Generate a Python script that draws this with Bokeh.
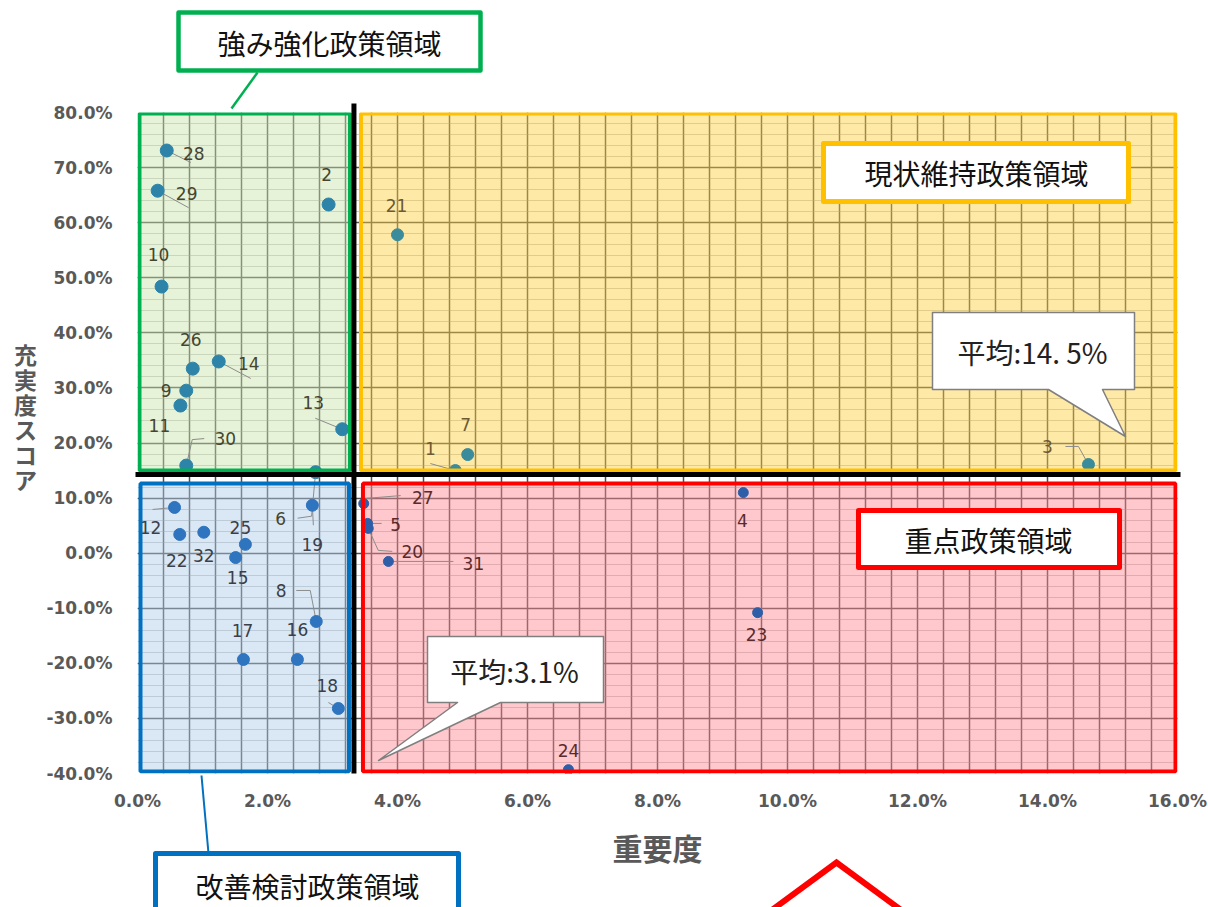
from bokeh.plotting import figure
from bokeh.layouts import column
from bokeh.models import Range1d, SingleIntervalTicker, PrintfTickFormatter
from bokeh.core.properties import value
from bokeh.embed import file_html
from bokeh.resources import INLINE

# ---------------- data ----------------
ids = [1, 2, 3, 4, 5, 6, 7, 8, 9, 10, 11, 12, 13, 14, 15, 16,
       17, 18, 19, 20, 21, 22, 23, 24, 25, 26, 27, 28, 29, 30, 31, 32]
importance = [4.89, 2.94, 14.63, 9.32, 3.54, 2.74, 5.08, 2.75, 0.75, 0.37, 0.66, 0.57, 3.15, 1.25, 1.51, 2.46,
              1.63, 3.09, 2.69, 3.55, 4.00, 0.65, 9.54, 6.63, 1.66, 0.85, 3.48, 0.45, 0.31, 0.75, 3.86, 1.02]
score = [15.0, 63.3, 16.1, 11.0, 5.4, 14.7, 17.9, -12.4, 29.5, 48.4, 26.8, 8.3, 22.5, 34.8, -0.8, -19.3,
         -19.3, -28.2, 8.7, 4.5, 57.8, 3.4, -10.8, -39.3, 1.6, 33.5, 9.0, 73.1, 65.8, 15.9, -1.5, 3.8]

x_title = "重要度"
y_title = "充実度スコア"
region_titles = ["強み強化政策領域", "現状維持政策領域", "改善検討政策領域", "重点政策領域"]
avg_x_text = "平均:3.1%"
avg_y_text = "平均:14. 5%"
AVG_X = 3.33   # position of the importance divider as drawn
AVG_Y = 14.3   # position of the score divider as drawn

# label placement (pixel offsets from each point, y downward)
lab_dx = [-25, -2, -41, -1, 28, -35, -2, -35, -20, -3, -21, -24, -29, 30, 2, 0,
          -1, -11, 0, 44, -1, -3, -1, 0, -5, -2, 59, 27, 29, 39, 85, 0]
lab_dy = [-22, -30, -18, 28, 1, 46, -30, -31, 0, -32, 20, 20, -27, 2, 20, -30,
          -29, -23, 39, 23, -29, 26, 22, -19, -17, -29, -6, 3, 3, -27, 2, 23]
# leader lines (pixel offsets from the point)
leaders = {
    1: [(-25, -7)], 3: [(-10, -18), (-23, -18)], 6: [(-4, 44), (-18, 46)],
    8: [(-6, -31), (-20, -31)], 12: [(-22, 2)], 13: [(-27, -11)], 14: [(32, 17)],
    18: [(-10, -6)], 19: [(1, 20)], 20: [(10, 22), (24, 23)], 27: [(0, -5), (37, -8)],
    5: [(14, 0)], 28: [(24, 12)], 29: [(31, 17)], 30: [(6, -26), (18, -27)], 31: [(65, 0)],
}

# ---------------- geometry ----------------
W, H = 1208, 907
FL, FR, FT, FB = 137, 1177, 112, 773        # plot frame, pixels
X0, X1, Y0, Y1 = 0.0, 16.0, -40.0, 80.0
SX = (X1 - X0) / (FR - FL)
SY = (Y1 - Y0) / (FB - FT)


def px(xp):  # pixel -> data x
    return X0 + (xp - FL) * SX


def py(yp):  # pixel -> data y
    return Y1 - (yp - FT) * SY


main = figure(width=W, height=H, x_range=Range1d(X0, X1), y_range=Range1d(Y0, Y1),
              output_backend="svg", toolbar_location=None,
              min_border_left=FL, min_border_right=W - FR, min_border_top=FT, min_border_bottom=H - FB)
main.outline_line_color = None
main.background_fill_color = "white"

# axes
main.xaxis.ticker = SingleIntervalTicker(interval=2)
main.yaxis.ticker = SingleIntervalTicker(interval=10, num_minor_ticks=5)
for ax in (main.xaxis, main.yaxis):
    ax.formatter = PrintfTickFormatter(format="%.1f%%")
    ax.axis_line_color = None
    ax.major_tick_line_color = None
    ax.minor_tick_line_color = None
    ax.major_tick_in = 0
    ax.major_tick_out = 0
    ax.minor_tick_in = 0
    ax.minor_tick_out = 0
    ax.major_label_text_font = "DejaVu Sans"
    ax.major_label_text_font_style = "bold"
    ax.major_label_text_font_size = "17px"
    ax.major_label_text_color = "#595959"
main.yaxis.major_label_standoff = 25
main.xaxis.major_label_standoff = 17
main.xaxis.axis_label = x_title
main.xaxis.axis_label_text_font = "Noto Sans CJK JP"
main.xaxis.axis_label_text_font_size = "30px"
main.xaxis.axis_label_text_font_style = "bold"
main.xaxis.axis_label_text_color = "#595959"
main.xaxis.axis_label_standoff = 11

# grid
main.xgrid.ticker = SingleIntervalTicker(interval=0.4)
for g in (main.xgrid, main.ygrid):
    g.grid_line_color = "#4f4f4f"
    g.grid_line_width = 1.5
main.ygrid.minor_grid_line_color = "#8a8a8a"
main.ygrid.minor_grid_line_alpha = 0.45

# quadrant boxes
gxl, gxr = 4 * SX, 7 * SX
gyt, gyb = 4 * SY, 9 * SY
q_left = [px(FL + 2), AVG_X + gxr, px(FL + 3), AVG_X + gxr + 2 * SX]
q_right = [AVG_X - gxl, px(FR - 2), AVG_X - gxl - SX, px(FR - 2)]
q_top = [py(FT + 1), py(FT + 1), AVG_Y - gyb, AVG_Y - gyb]
q_bottom = [AVG_Y + gyt, AVG_Y + gyt, py(FB - 2), py(FB - 2)]
q_fill = ["#c7e4ab", "#fdce39", "#adcceb", "#ff858e"]
q_line = ["#00b050", "#ffc000", "#0070c0", "#ff0000"]
main.quad(left=q_left, right=q_right, top=q_top, bottom=q_bottom,
          fill_color=q_fill, fill_alpha=0.45, line_color=None)

# points, colours by quadrant
region = []
for xi, yi in zip(importance, score):
    if yi >= AVG_Y:
        region.append(0 if xi < AVG_X else 1)
    else:
        region.append(2 if xi < AVG_X else 3)
pt_color = [["#2d84a8", "#3a8c9c", "#2e74bf", "#2f5ea8"][r] for r in region]
pt_size = [[13, 12, 12, 10][r] for r in region]
lb_color = [["#45452f", "#6b5a34", "#3a3f48", "#5a2a2a"][r] for r in region]

lx, ly = [], []
for i, xi, yi in zip(ids, importance, score):
    if i in leaders:
        lx.append([xi] + [xi + d[0] * SX for d in leaders[i]])
        ly.append([yi] + [yi - d[1] * SY for d in leaders[i]])
main.multi_line(xs=lx, ys=ly, line_color="#8c8c8c", line_width=1)

main.scatter(x=importance, y=score, size=pt_size, fill_color=pt_color, line_color=pt_color)
main.text(x=importance, y=score, text=[str(i) for i in ids], x_offset=lab_dx, y_offset=lab_dy,
          text_align="center", text_baseline="middle", text_font=value("DejaVu Sans"),
          text_font_size="17px", text_color=lb_color)

main.quad(left=q_left, right=q_right, top=q_top, bottom=q_bottom,
          fill_color=None, line_color=q_line, line_width=4)

# ---------------- overlay for callouts (whole canvas) ----------------
over = figure(width=W, height=H, x_range=Range1d(px(0), px(W)), y_range=Range1d(py(H), py(0)),
              output_backend="svg", toolbar_location=None, title=None, min_border=0,
              x_axis_location=None, y_axis_location=None,
              styles={"position": "absolute", "left": "0px", "top": "0px", "pointer-events": "none"})
over.background_fill_color = None
over.border_fill_color = None
over.outline_line_color = None
over.grid.visible = False

try:
    over.frame_align = False
    main.frame_align = False
    aligned = False
except Exception:
    aligned = True
if aligned:  # overlay frame follows the main frame horizontally
    over.x_range = Range1d(X0, X1)

# dividers
over.line(x=[AVG_X, AVG_X], y=[py(103), Y0], line_color="black", line_width=5)
over.line(x=[px(135), px(1180)], y=[AVG_Y, AVG_Y], line_color="black", line_width=5)


def shape(pts, fill="white", line="#7f7f7f", width=1.5):
    over.patch(x=[px(a) for a, b in pts], y=[py(b) for a, b in pts],
               fill_color=fill, line_color=line, line_width=width, line_join="round")


def text(xp, yp, t, size="28px", color="#111111", style="normal"):
    over.text(x=[px(xp)], y=[py(yp)], text=[t], text_align="center", text_baseline="middle",
              text_font=value("Noto Sans CJK JP"), text_font_size=size, text_color=color,
              text_font_style=style)


# average callouts
shape([(932, 312), (1134, 312), (1134, 389), (1102, 389), (1125, 436), (1048, 389), (932, 389)])
text(1032, 351, avg_y_text, size="28px", color="#222222")
shape([(427, 636), (603, 636), (603, 702), (500, 702), (378, 760), (457, 702), (427, 702)])
text(514, 670, avg_x_text, size="28px", color="#222222")

# region title boxes
over.line(x=[px(257), px(231)], y=[py(72), py(108)], line_color="#00b050", line_width=2.5)
shape([(178, 12), (480, 12), (480, 70), (178, 70)], line="#00b050", width=4.5)
text(329, 42, region_titles[0])
shape([(823, 143), (1128, 143), (1128, 201), (823, 201)], line="#ffc000", width=5)
text(976, 172, region_titles[1])
over.line(x=[px(201), px(208)], y=[py(775), py(853)], line_color="#0070c0", line_width=2)
shape([(155, 853), (458, 853), (458, 935), (155, 935)], line="#0070c0", width=5)
text(307, 885, region_titles[2])
shape([(858, 510), (1119, 510), (1119, 567), (858, 567)], line="#ff0000", width=5)
text(988, 539, region_titles[3])
over.line(x=[px(730), px(836), px(942)], y=[py(940), py(862), py(940)], line_color="#ff0000",
          line_width=6, line_join="miter")

# y axis title, stacked upright characters
if aligned:
    main.yaxis.axis_label = "\n".join(list(y_title) + ["", ""])
    main.yaxis.axis_label_text_font = "Noto Sans CJK JP"
    main.yaxis.axis_label_text_font_size = "23px"
    main.yaxis.axis_label_text_font_style = "bold"
    main.yaxis.axis_label_text_color = "#595959"
    try:
        main.yaxis.axis_label_orientation = "horizontal"
    except Exception:
        pass
else:
    over.text(x=[px(25)] * len(y_title), y=[py(353 + 25 * k) for k in range(len(y_title))],
              text=list(y_title), text_align="center", text_baseline="middle",
              text_font=value("Noto Sans CJK JP"), text_font_size="23px", text_color="#595959",
              text_font_style="bold")

layout = column(main, over)
open("out.html", "w").write(file_html(layout, INLINE))
